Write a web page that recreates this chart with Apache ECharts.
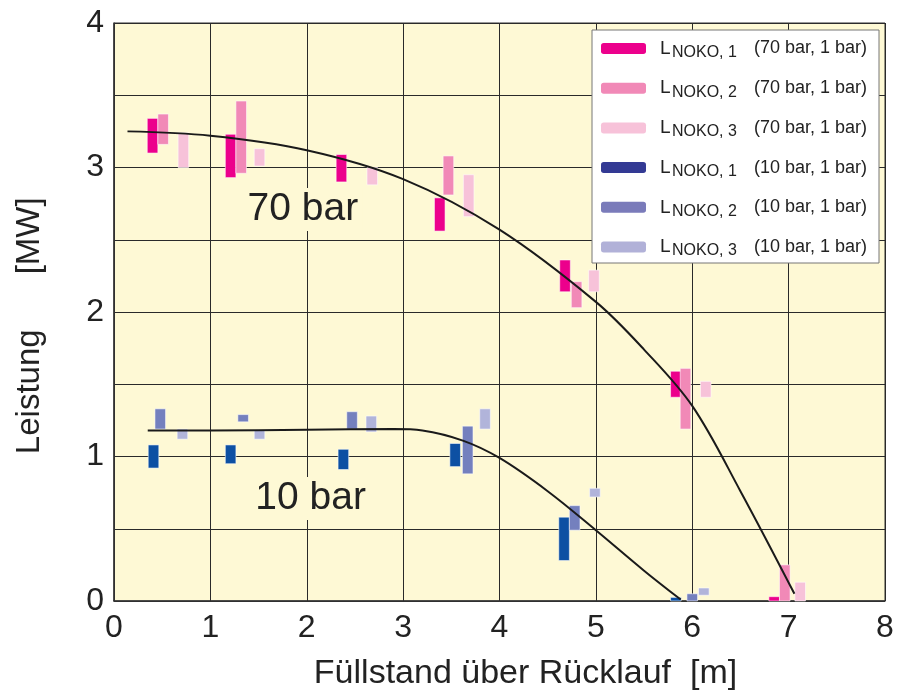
<!DOCTYPE html>
<html>
<head>
<meta charset="utf-8">
<title>Leistung über Füllstand</title>
<script src="https://cdn.jsdelivr.net/npm/echarts@6/dist/echarts.min.js"></script>
<style>
  html, body { margin: 0; padding: 0; background: #fff; }
  #chart { width: 898px; height: 696px; }
</style>
</head>
<body>
<div id="chart"></div>
<script>
// Daten: je Messreihe [x, von, bis]
const l1_70 = [[0.40, 3.10, 3.34], [1.21, 2.93, 3.23], [2.36, 2.90, 3.09], [3.38, 2.56, 2.79], [4.68, 2.14, 2.36], [5.83, 1.41, 1.59], [6.85, 0.0, 0.03]];
const l2_70 = [[0.51, 3.16, 3.37], [1.32, 2.96, 3.46], [3.47, 2.81, 3.08], [4.80, 2.03, 2.21], [5.93, 1.19, 1.61], [6.96, 0.0, 0.25]];
const l3_70 = [[0.72, 3.00, 3.24], [1.51, 3.01, 3.13], [2.68, 2.88, 3.00], [3.68, 2.66, 2.95], [4.98, 2.14, 2.29], [6.14, 1.41, 1.52], [7.12, 0.0, 0.13]];
const l1_10 = [[0.41, 0.92, 1.08], [1.21, 0.95, 1.08], [2.38, 0.91, 1.05], [3.54, 0.93, 1.09], [4.67, 0.28, 0.58], [5.83, 0.0, 0.025]];
const l2_10 = [[0.48, 1.19, 1.33], [1.34, 1.24, 1.29], [2.47, 1.19, 1.31], [3.67, 0.88, 1.21], [4.78, 0.49, 0.66], [6.00, 0.0, 0.05]];
const l3_10 = [[0.71, 1.12, 1.19], [1.51, 1.12, 1.18], [2.67, 1.17, 1.28], [3.85, 1.19, 1.33], [4.99, 0.72, 0.78], [6.12, 0.04, 0.09]];

// Ausgleichskurven
const curve70 = [[0.14, 3.25], [1, 3.22], [2, 3.12], [3, 2.92], [4, 2.57], [5, 2.07], [5.5, 1.74], [6, 1.35], [6.5, 0.76], [7.06, 0.05]];
const curve10 = [[0.35, 1.18], [1, 1.18], [2, 1.185], [2.9, 1.19], [3.2, 1.18], [3.62, 1.11], [4, 0.99], [4.5, 0.76], [5, 0.49], [5.5, 0.21], [5.88, 0.01]];

// Beschriftungen im Diagramm
const curveLabels = [[1.96, 2.71, '70 bar'], [2.04, 0.71, '10 bar']];

const xTicks = [0, 1, 2, 3, 4, 5, 6, 7, 8];
const yTicks = [0, 1, 2, 3, 4];

const BAR_W = 0.11; // Balkenbreite in m

const myChart = echarts.init(document.getElementById('chart'));

function rangeBar (params, api) {
  const lo = api.coord([api.value(0), api.value(1)]);
  const hi = api.coord([api.value(0), api.value(2)]);
  const w = api.size([BAR_W, 0])[0];
  return {
    type: 'rect',
    shape: { x: lo[0] - w / 2, y: hi[1], width: w, height: lo[1] - hi[1] },
    style: { fill: api.visual('color'), stroke: 'rgba(255,255,255,0.55)', lineWidth: 1 }
  };
}

function curveText (params, api) {
  const p = api.coord([api.value(0), api.value(1)]);
  return {
    type: 'text',
    x: p[0],
    y: p[1],
    style: {
      text: curveLabels[params.dataIndex][2],
      fontSize: 39,
      fontFamily: 'Liberation Sans, Arial, sans-serif',
      fill: '#222',
      align: 'center',
      verticalAlign: 'middle',
      backgroundColor: '#FEF9D5',
      padding: [2, 4]
    }
  };
}

const barSeries = [
  { name: 'a70', data: l1_70, color: '#EC008C', legendColor: '#EC008C', sub: 'NOKO, 1', p: '(70 bar, 1 bar)' },
  { name: 'b70', data: l2_70, color: '#F189B7', legendColor: '#F189B7', sub: 'NOKO, 2', p: '(70 bar, 1 bar)' },
  { name: 'c70', data: l3_70, color: '#F7C2D9', legendColor: '#F7C2D9', sub: 'NOKO, 3', p: '(70 bar, 1 bar)' },
  { name: 'a10', data: l1_10, color: '#0D50A3', legendColor: '#333A94', sub: 'NOKO, 1', p: '(10 bar, 1 bar)' },
  { name: 'b10', data: l2_10, color: '#7480BE', legendColor: '#7A7BBA', sub: 'NOKO, 2', p: '(10 bar, 1 bar)' },
  { name: 'c10', data: l3_10, color: '#B1B4DA', legendColor: '#B1B1D8', sub: 'NOKO, 3', p: '(10 bar, 1 bar)' }
];

const option = {
  animation: false,
  textStyle: { fontFamily: 'Liberation Sans, Arial, sans-serif' },
  grid: {
    left: 114,
    right: 13,
    top: 23,
    bottom: 91,
    show: true,
    backgroundColor: '#FEF9D5',
    borderColor: '#333',
    borderWidth: 1
  },
  legend: {
    orient: 'vertical',
    left: 592,
    top: 30,
    padding: [9, 10, 4, 9],
    itemWidth: 45,
    itemHeight: 11,
    itemGap: 18.2,
    itemTextGap: 5,
    backgroundColor: '#fff',
    borderColor: '#777',
    borderWidth: 1,
    data: barSeries.map(s => ({ name: s.name, itemStyle: { color: s.legendColor } })),
    formatter: function (name) {
      const s = barSeries.find(b => b.name === name);
      return '{a|L}{b|' + s.sub + '}{c|' + s.p + '}';
    },
    textStyle: {
      color: '#222',
      rich: {
        a: { fontSize: 19, lineHeight: 24, width: 12, padding: [0, 0, 0, 9], color: '#222' },
        b: { fontSize: 16, lineHeight: 16, width: 82, verticalAlign: 'bottom', color: '#222' },
        c: { fontSize: 18, lineHeight: 24, width: 115, color: '#222' }
      }
    }
  },
  xAxis: {
    type: 'value',
    min: 0,
    max: 8,
    interval: 1,
    name: 'Füllstand über Rücklauf  [m]',
    nameLocation: 'middle',
    nameGap: 56,
    nameTextStyle: { fontSize: 34, color: '#222', padding: [0, 0, 0, 52] },
    axisLine: { show: true, lineStyle: { color: '#333', width: 1.5 } },
    axisTick: { show: false },
    axisLabel: {
      fontSize: 32,
      color: '#222',
      margin: 11,
      formatter: v => (xTicks.includes(v) ? String(v) : '')
    },
    splitLine: { show: true, lineStyle: { color: '#2a2a2a', width: 1 } }
  },
  yAxis: {
    type: 'value',
    min: 0,
    max: 4,
    interval: 0.5,
    name: 'Leistung      [MW]   ',
    nameLocation: 'middle',
    nameGap: 68,
    nameTextStyle: { fontSize: 33, color: '#222' },
    axisLine: { show: true, lineStyle: { color: '#333', width: 1.5 } },
    axisTick: { show: false },
    axisLabel: {
      fontSize: 32,
      color: '#222',
      margin: 10,
      formatter: v => (yTicks.includes(v) ? String(v) : '')
    },
    splitLine: { show: true, lineStyle: { color: '#2a2a2a', width: 1 } }
  },
  series: [
    ...barSeries.map(s => ({
      name: s.name,
      type: 'custom',
      renderItem: rangeBar,
      encode: { x: 0, y: [1, 2] },
      itemStyle: { color: s.color },
      data: s.data,
      z: 3
    })),
    {
      type: 'line',
      data: curve70,
      smooth: 0.35,
      showSymbol: false,
      lineStyle: { color: '#1a1a1a', width: 2 },
      z: 4
    },
    {
      type: 'line',
      data: curve10,
      smooth: 0.35,
      showSymbol: false,
      lineStyle: { color: '#1a1a1a', width: 2 },
      z: 4
    },
    {
      type: 'custom',
      renderItem: curveText,
      encode: { x: 0, y: 1 },
      data: curveLabels.map(d => [d[0], d[1]]),
      z: 2
    }
  ]
};

myChart.setOption(option);
window.addEventListener('resize', function () {
  myChart.resize();
});
</script>
</body>
</html>
